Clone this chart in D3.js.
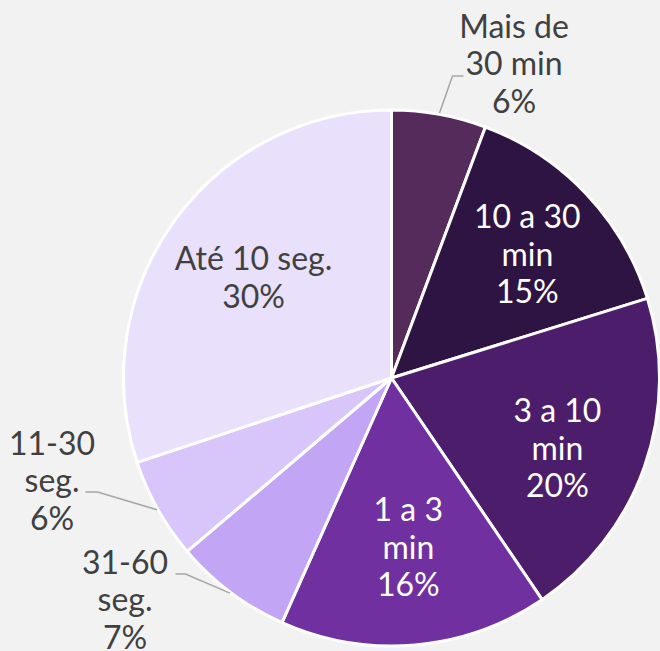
<!DOCTYPE html>
<html>
<head>
<meta charset="utf-8">
<script src="https://cdn.jsdelivr.net/npm/d3@7"></script>
<style>
html,body{margin:0;padding:0;background:#f2f2f2;}
svg{display:block;}
</style>
</head>
<body>
<script>
// ---- data ----
const categories = ["Mais de 30 min", "10 a 30 min", "3 a 10 min", "1 a 3 min", "31-60 seg.", "11-30 seg.", "Até 10 seg."];
const labelLines = [["Mais de", "30 min"], ["10 a 30", "min"], ["3 a 10", "min"], ["1 a 3", "min"], ["31-60", "seg."], ["11-30", "seg."], ["Até 10 seg."]];
const values = [5.7, 14.5, 20.3, 16.2, 7.1, 6.1, 30.1];
const colors = ["#552b5b", "#2e1443", "#4b1d6b", "#7030a0", "#c2a5f5", "#d8c6fa", "#e9e0fc"];
const textColors = ["#404040", "#ffffff", "#ffffff", "#ffffff", "#404040", "#404040", "#404040"];

// ---- layout ----
const W = 660, H = 651;
const cx = 391.5, cy = 378, R = 268;
const fontSize = 32, lineH = 37.5;
const insideR = 180;
// small best-fit nudges for inside labels
const nudge = {1: [5, 0], 2: [-4, 11], 3: [1, -10], 6: [8, 5]};
// outside labels: text block centre + elbow/end of leader (relative to pie centre)
const outside = {
  0: {tx: 122.5, ty: -314.5, elbow: [61, -302], end: [72, -302]},
  4: {tx: -266.5, ty: 221.5, elbow: [-206, 196], end: [-216, 196]},
  5: {tx: -339.5, ty: 102.5, elbow: [-294, 114], end: [-306, 114]}
};

const svg = d3.select("body").append("svg").attr("width", W).attr("height", H);
svg.append("rect").attr("width", W).attr("height", H).attr("fill", "#f2f2f2");
const g = svg.append("g").attr("transform", `translate(${cx},${cy})`);

const pie = d3.pie().sort(null).value(d => d);
const arcs = pie(values);
const arc = d3.arc().innerRadius(0).outerRadius(R);
const labelArc = d3.arc().innerRadius(insideR).outerRadius(insideR);
const edgeArc = d3.arc().innerRadius(R + 1).outerRadius(R + 1);

g.selectAll("path.slice").data(arcs).join("path")
  .attr("class", "slice")
  .attr("d", arc)
  .attr("fill", (d, i) => colors[i])
  .attr("stroke", "#ffffff")
  .attr("stroke-width", 3)
  .attr("stroke-linejoin", "round");

const fmt = v => Math.round(v) + "%";

arcs.forEach((d, i) => {
  const lines = labelLines[i].concat([fmt(values[i])]);
  let x, y;
  if (outside[i]) {
    const o = outside[i];
    x = o.tx; y = o.ty;
    const p = edgeArc.centroid(d);
    g.append("polyline")
      .attr("points", [p, o.elbow, o.end].map(q => q.join(",")).join(" "))
      .attr("fill", "none").attr("stroke", "#a6a6a6").attr("stroke-width", 1.5);
  } else {
    [x, y] = labelArc.centroid(d);
    const nd = nudge[i] || [0, 0];
    x += nd[0]; y += nd[1];
  }
  const n = lines.length;
  const t = g.append("text")
    .attr("text-anchor", "middle")
    .attr("font-family", "Lato, 'Open Sans', sans-serif")
    .attr("font-size", fontSize)
    .attr("fill", textColors[i]);
  lines.forEach((ln, k) => {
    t.append("tspan")
      .attr("x", x)
      .attr("y", y + (k - (n - 1) / 2) * lineH + fontSize * 0.36)
      .text(ln);
  });
});
</script>
</body>
</html>
